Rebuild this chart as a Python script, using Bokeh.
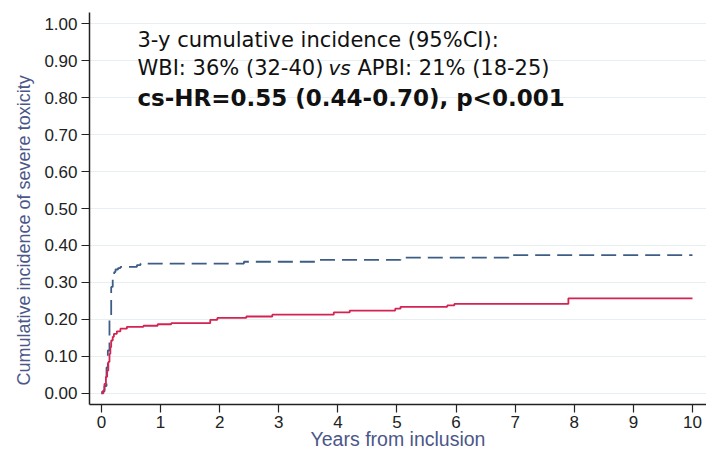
from bokeh.plotting import figure
from bokeh.models import Label, FixedTicker, NumeralTickFormatter, Range1d, Title
from bokeh.embed import file_html
from bokeh.resources import INLINE

# ---- data ----
wbi_years = [0, 0.01, 0.05, 0.085, 0.107, 0.135, 0.164, 0.19, 0.215, 0.237, 0.28, 0.32,
             0.6, 0.66, 2.41, 3.62, 5.06, 6.89, 10.0]
wbi_cuminc = [0, 0.005, 0.02, 0.07, 0.116, 0.206, 0.288, 0.315, 0.328, 0.335, 0.339, 0.342,
              0.347, 0.351, 0.356, 0.361, 0.367, 0.374, 0.374]

apbi_years = [0, 0.03, 0.05, 0.075, 0.096, 0.115, 0.135, 0.15, 0.164, 0.19, 0.21, 0.26,
              0.32, 0.43, 0.71, 0.95, 1.18, 1.84, 1.96, 2.45, 2.89, 3.93, 4.2, 4.97,
              5.06, 5.85, 5.97, 7.9, 10.0]
apbi_cuminc = [0, 0.008, 0.026, 0.045, 0.062, 0.085, 0.107, 0.125, 0.143, 0.153, 0.161, 0.168,
               0.175, 0.18, 0.183, 0.187, 0.19, 0.199, 0.204, 0.208, 0.213, 0.219, 0.224, 0.229,
               0.234, 0.238, 0.242, 0.257, 0.257]

x_ticks = [0, 1, 2, 3, 4, 5, 6, 7, 8, 9, 10]
y_ticks = [0.0, 0.1, 0.2, 0.3, 0.4, 0.5, 0.6, 0.7, 0.8, 0.9, 1.0]

x_label = "Years from inclusion"
y_label = "Cumulative incidence of severe toxicity"
title_line1 = "3-y cumulative incidence (95%CI):"
line2_a = "WBI: 36% (32-40)"
line2_vs = "vs"
line2_b = "APBI: 21% (18-25)"
title_line3 = "cs-HR=0.55 (0.44-0.70), p<0.001"

# ---- figure ----
p = figure(width=706, height=452, output_backend="svg", toolbar_location=None,
           x_range=Range1d(-0.203, 10.237), y_range=Range1d(-0.03, 1.03),
           min_border_left=89, min_border_right=0, min_border_top=12, min_border_bottom=48)
p.outline_line_color = None
p.background_fill_color = "white"
p.border_fill_color = "white"

WBI_COLOR = "#3e5d84"
APBI_COLOR = "#d42352"
AX_LABEL_COLOR = "#4b5789"

p.step(wbi_years, wbi_cuminc, mode="after", line_color=WBI_COLOR, line_width=1.8,
       line_dash="15 7")
p.step(apbi_years, apbi_cuminc, mode="after", line_color=APBI_COLOR, line_width=1.8)

# axes
for ax in (p.xaxis[0], p.yaxis[0]):
    ax.axis_line_color = "#222222"
    ax.axis_line_width = 1.5
    ax.major_tick_line_color = "#222222"
    ax.major_tick_line_width = 1.2
    ax.major_tick_out = 8
    ax.major_tick_in = 0
    ax.minor_tick_line_color = None
    ax.major_label_text_font = "Liberation Sans"
    ax.major_label_text_font_size = "17px"
    ax.major_label_text_color = "#222222"
    ax.axis_label_text_font = "Liberation Sans"
    ax.axis_label_text_font_style = "normal"
    ax.axis_label_text_color = AX_LABEL_COLOR

p.xaxis.ticker = FixedTicker(ticks=x_ticks)
p.yaxis.ticker = FixedTicker(ticks=y_ticks)
p.yaxis.formatter = NumeralTickFormatter(format="0.00")
p.xaxis.axis_label = x_label
p.xaxis.axis_label_text_font_size = "19.5px"
p.xaxis.major_label_standoff = 3
p.yaxis.major_label_standoff = 4
p.xaxis.axis_label_standoff = -3

# y-axis title as a side title, anchored near the bottom of the frame
p.add_layout(Title(text=y_label, align="left", offset=19, standoff=16,
                   text_font="Liberation Sans", text_font_size="18px",
                   text_font_style="normal", text_color=AX_LABEL_COLOR), "left")

p.xgrid.grid_line_color = None
p.ygrid.grid_line_color = "#e6eff1"
p.ygrid.grid_line_width = 1.2

# annotation text
TXT_FONT = "DejaVu Sans"
TXT_COLOR = "#111111"
p.add_layout(Label(x=0.609, y=0.9556, text=title_line1, text_font=TXT_FONT,
                   text_font_size="21px", text_baseline="alphabetic", text_color=TXT_COLOR))
p.add_layout(Label(x=0.609, y=0.8786, text=line2_a, text_font=TXT_FONT,
                   text_font_size="21px", text_baseline="alphabetic", text_color=TXT_COLOR))
p.add_layout(Label(x=3.84, y=0.8786, text=line2_vs, text_font=TXT_FONT,
                   text_font_size="20px", text_font_style="italic",
                   text_baseline="alphabetic", text_color=TXT_COLOR))
p.add_layout(Label(x=4.33, y=0.8786, text=line2_b, text_font=TXT_FONT,
                   text_font_size="21px", text_baseline="alphabetic", text_color=TXT_COLOR))
p.add_layout(Label(x=0.609, y=0.7988, text=title_line3, text_font=TXT_FONT,
                   text_font_size="23px", text_font_style="bold",
                   text_baseline="alphabetic", text_color=TXT_COLOR))

open("out.html", "w").write(file_html(p, INLINE))
